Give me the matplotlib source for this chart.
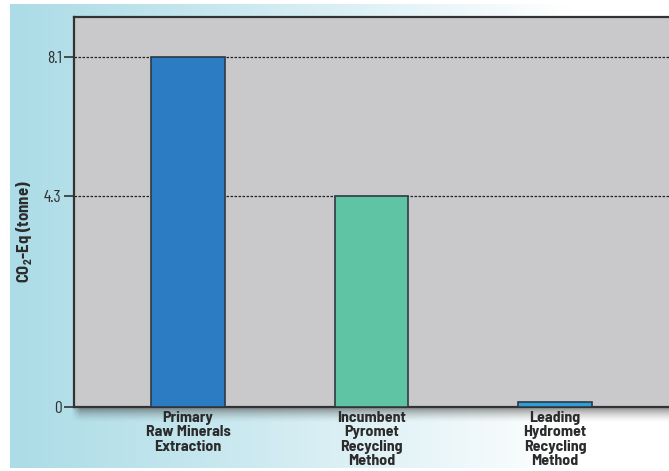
import numpy as np
import matplotlib
matplotlib.use("Agg")
import matplotlib.pyplot as plt

# --- data ---------------------------------------------------------------
categories = ["Primary\nRaw Minerals\nExtraction",
              "Incumbent\nPyromet\nRecycling\nMethod",
              "Leading\nHydromet\nRecycling\nMethod"]
co2_tonnes = [8.1, 4.3, 0.1]
tick_values = [0, 4.3, 8.1]
tick_labels = ["0", "4.3", "8.1"]
bar_colors = ["#2b7cc2", "#5fc4a3", "#2da0da"]

# --- fonts --------------------------------------------------------------
label_font = ["Barlow Semi Condensed", "DejaVu Sans"]
tick_font = ["Barlow Condensed", "DejaVu Sans"]
plt.rcParams["font.family"] = label_font
plt.rcParams["mathtext.fontset"] = "custom"
plt.rcParams["mathtext.rm"] = "Barlow Semi Condensed:bold"

W, H = 669, 471
fig = plt.figure(figsize=(W / 100, H / 100), dpi=100)
fig.patch.set_facecolor("white")

# background panel: light blue fading to white
bg = fig.add_axes([10 / W, 3 / H, 1 - 10 / W, 1 - 7 / H], zorder=-10)
x = np.linspace(0, 1, 400)
ramp = np.clip(x / 0.85, 0, 1) ** 1.1
left = np.array([172, 220, 231]) / 255
right = np.array([1.0, 1.0, 1.0])
row = left[None, :] * (1 - ramp[:, None]) + right[None, :] * ramp[:, None]
bg.imshow(row[None, :, :], aspect="auto", extent=[0, 1, 0, 1])
bg.set_axis_off()

# piecewise scale for the value axis
knots_v = [-100, 0, 4.3, 8.1, 100]
knots_p = [-100 * 49.1, 0, 211, 350, 350 + 91.9 * 43.2]


def fwd(v):
    return np.interp(v, knots_v, knots_p)


def inv(p):
    return np.interp(p, knots_p, knots_v)


ax_left, ax_bottom, ax_top = 74, 407, 17
ax = fig.add_axes([ax_left / W, (H - ax_bottom) / H,
                   (W + 10 - ax_left) / W, (ax_bottom - ax_top) / H])
ax.set_facecolor("#c9c9cb")
ax.set_yscale("function", functions=(fwd, inv))
ax.set_ylim(0, inv(ax_bottom - ax_top))

spacing = 183.5
x0 = -(188 - ax_left) / spacing
ax.set_xlim(x0, x0 + (W + 10 - ax_left) / spacing)

pos = np.arange(len(categories))
ax.bar(pos, co2_tonnes, width=0.40, color=bar_colors,
       edgecolor="#2f3a44", linewidth=1.2, zorder=3)

ax.set_yticks(tick_values)
ax.set_yticklabels(tick_labels, fontsize=12.5, color="#333333", family=tick_font)
ax.yaxis.set_minor_locator(matplotlib.ticker.NullLocator())
ax.tick_params(axis="y", length=7, width=1.2, color="#333333", pad=2)
for v in tick_values[1:]:
    ax.axhline(v, color="#222222", linewidth=0.9, linestyle=(0, (2, 1.2)), zorder=2)

ax.set_xticks(pos)
ax.set_xticklabels(categories, fontsize=11.5, fontweight="bold", color="#2b2b2b",
                   linespacing=1.03, va="top")
ax.tick_params(axis="x", length=0, pad=3)

for side in ("left", "top", "bottom"):
    ax.spines[side].set_color("#333333")
    ax.spines[side].set_linewidth(1.6)
ax.spines["right"].set_visible(False)

ax.set_ylabel("CO$_2$-Eq (tonne)", fontsize=12, fontweight="bold",
              color="#2b2b2b")
ax.yaxis.set_label_coords(-(ax_left - 34) / (W + 10 - ax_left), 0.45)

# soft drop shadow under the baseline
sh = fig.add_axes([(ax_left - 3) / W, (H - ax_bottom - 16) / H,
                   (W + 10 - ax_left) / W, 16 / H], zorder=-5)
ny, nx = 32, 600
ty = np.linspace(0, 1, ny)[:, None]
tx = np.linspace(0, 1, nx)[None, :]
alpha = 0.6 * (1 - ty) ** 1.6 * np.clip(tx * (W / 10), 0, 1)
img = np.zeros((ny, nx, 4))
img[..., :3] = 0.25
img[..., 3] = alpha
sh.imshow(img, aspect="auto", extent=[0, 1, 0, 1])
sh.set_axis_off()

fig.savefig("out.png", dpi=100)
